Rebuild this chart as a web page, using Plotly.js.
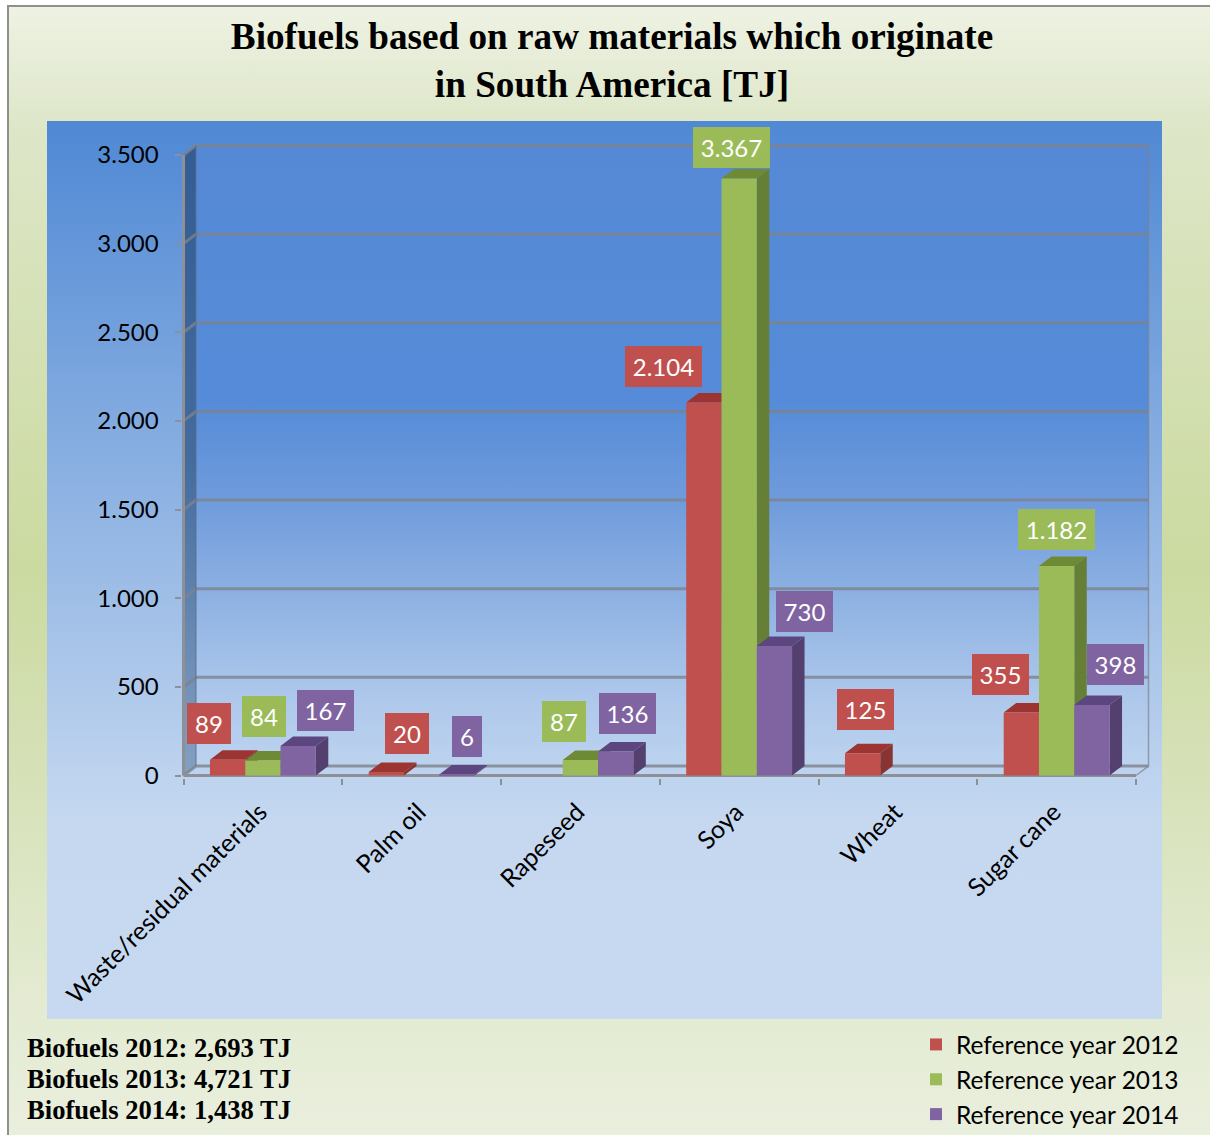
<!DOCTYPE html>
<html>
<head>
<meta charset="utf-8">
<script src="https://cdn.plot.ly/plotly-3.0.1.min.js"></script>
<style>
html,body{margin:0;padding:0;width:1210px;height:1135px;overflow:hidden;background:#fff}
#page{position:relative;width:1210px;height:1135px}
#frame{position:absolute;left:7px;top:5px;width:1300px;height:1300px;border:2px solid #8e908c;box-sizing:border-box;background:linear-gradient(180deg,#eef2e3 0px,#dde6c7 125px,#cbdaa0 560px,#d6e1b8 770px,#e4ebd2 1000px,#e9efdd 1130px,#e9efdd 1300px)}
#plate{position:absolute;left:47px;top:121px;width:1115px;height:898px;background:linear-gradient(180deg,#4f88d4 0%,#c5d8f0 78%,#c6d9f0 100%)}
#chart{position:absolute;left:0;top:0;width:1210px;height:1135px}
</style>
</head>
<body>
<div id="page"><div id="frame"></div><div id="plate"></div><div id="chart"></div></div>
<script>
const categories = ["Waste/residual materials","Palm oil","Rapeseed","Soya","Wheat","Sugar cane"];
const seriesNames = ["Reference year 2012","Reference year 2013","Reference year 2014"];
const values2012 = [89,20,null,2104,125,355];
const values2013 = [84,null,87,3367,null,1182];
const values2014 = [167,6,136,730,null,398];
const yTicks = [0,500,1000,1500,2000,2500,3000,3500];
const footerLines = ["Biofuels 2012: 2,693 TJ","Biofuels 2013: 4,721 TJ","Biofuels 2014: 1,438 TJ"];

const allValues = [values2012,values2013,values2014];
const frontColors = ["#C0504D","#9BBB59","#8064A2"];
const topColors = ["#9c3431","#6f8a35","#5c4680"];
const sideColors = ["#873432","#667f36","#54406f"];
const gridColor = "rgba(125,130,140,0.8)";
const axisColor = "#8d9096";
const PX_CAT = 158.83, PX_VAL = 621/3500;
const BARW = 2/9, DX = 12.5/PX_CAT, DY = 53.5;
const idx = categories.map((_,i)=>i);
const font = "Lato, Carlito, sans-serif";
const serif = "'Liberation Serif','Times New Roman',serif";

// label offsets (px) from the front-top centre of each bar
const labelShift = [
 [[-19,36],[21,38],null,[-40,36],[3,44],[-21,38]],
 [[1,44],null,[-16,39],[-8,31],null,[0,36]],
 [[27,35],[10,38],[12,38],[30,35],null,[24,40]]
];

const traces = [];
const line = (xs,ys,width,color,z)=>({type:"scatter",mode:"lines",x:xs,y:ys,line:{width:width,color:color},
  hoverinfo:"skip",showlegend:false,zorder:z});

// back wall
traces.push({type:"scatter",mode:"lines",x:[-0.5+DX,5.5+DX,5.5+DX,-0.5+DX,-0.5+DX],y:[DY,DY,3500+DY,3500+DY,DY],fill:"toself",
  fillgradient:{type:"vertical",colorscale:[[0,"#bcd3ef"],[0.108,"#aec8eb"],[0.268,"#8fb2e3"],[0.429,"#6f9bdc"],[0.59,"#558bd8"],[1,"#5589d5"]]},
  line:{width:0},hoverinfo:"skip",showlegend:false,zorder:0});
// left wall
traces.push({type:"scatter",mode:"lines",x:[-0.5,-0.5+DX,-0.5+DX,-0.5,-0.5],y:[0,DY,3500+DY,3500,0],fill:"toself",
  fillgradient:{type:"vertical",colorscale:[[0,"rgba(125,155,190,0.9)"],[0.5,"rgba(60,100,150,0.9)"],[1,"rgba(50,90,145,0.95)"]]},
  line:{width:0},hoverinfo:"skip",showlegend:false,zorder:0});
// back and left-wall grid lines
yTicks.forEach(v=>{
  traces.push(line([-0.5,-0.5+DX,5.5+DX],[v,v+DY,v+DY],3,gridColor,0));
});
traces.push(line([5.5,5.5+DX,5.5+DX],[0,DY,3500+DY],1.5,"rgba(125,130,140,0.7)",0));
traces.push(line([-0.5+DX,-0.5+DX],[DY,3500+DY],1.5,"rgba(90,110,140,0.6)",0));
// front axis lines
traces.push(line([-0.5,5.5],[0,0],3,axisColor,0));
traces.push(line([-0.5,-0.5],[0,3500],3,axisColor,0));

allValues.forEach((vals,s)=>{
  const off = -1/3 + s*BARW;
  const tx=[],ty=[],sx=[],sy=[];
  vals.forEach((v,i)=>{
    if(v===null) return;
    const xl=i+off, xr=xl+BARW;
    tx.push(xl,xr,xr+DX,xl+DX,xl,null); ty.push(v,v,v+DY,v+DY,v,null);
    sx.push(xr,xr+DX,xr+DX,xr,xr,null); sy.push(0,DY,v+DY,v,0,null);
  });
  const z = 1+s*2;
  traces.push({type:"scatter",mode:"lines",x:sx,y:sy,fill:"toself",fillcolor:sideColors[s],line:{width:0},
    hoverinfo:"skip",showlegend:false,zorder:z});
  traces.push({type:"scatter",mode:"lines",x:tx,y:ty,fill:"toself",fillcolor:topColors[s],line:{width:0},
    hoverinfo:"skip",showlegend:false,zorder:z});
  traces.push({type:"bar",name:seriesNames[s],x:idx,y:vals,width:BARW,offset:off,
    marker:{color:frontColors[s],line:{width:0}},zorder:z+1,
    hovertemplate:"%{y}<extra>"+seriesNames[s]+"</extra>"});
});

const fmt = v => String(v).replace(/\B(?=(\d{3})+$)/g,".");
const boxW = {1:30,2:44,3:57,5:77};
const annotations = [];
allValues.forEach((vals,s)=>{
  vals.forEach((v,i)=>{
    if(v===null) return;
    const t = fmt(v);
    annotations.push({xref:"x",yref:"y",x:i-2/9+s*BARW,y:v,text:t,showarrow:false,
      xanchor:"center",yanchor:"middle",xshift:labelShift[s][i][0],yshift:labelShift[s][i][1],
      width:boxW[t.length],height:41,bgcolor:frontColors[s],borderpad:0,borderwidth:0,align:"center",valign:"middle",
      font:{family:font,size:24,color:"#ffffff"}});
  });
});
footerLines.forEach((t,i)=>{
  annotations.push({xref:"paper",yref:"paper",x:0,xanchor:"left",yanchor:"middle",
    xshift:-157.5, y:0, yshift:778.5-1048-31*i, text:"<b>"+t+"</b>",showarrow:false,
    font:{family:serif,size:26.6,color:"#000000"}});
});

const layout = {
  width:1210,height:1135,
  margin:{l:181.5,r:60,t:144,b:356.5,pad:0,autoexpand:false},
  paper_bgcolor:"rgba(0,0,0,0)",plot_bgcolor:"rgba(0,0,0,0)",
  barmode:"overlay",separators:",.",
  title:{text:"<b>Biofuels based on raw materials which originate<br>in South America [TJ]</b>",
    x:612/1210,xanchor:"center",y:1-49/1135,yanchor:"top",font:{family:serif,size:37.2,color:"#000"}},
  showlegend:true,
  legend:{xref:"container",yref:"container",x:916/1210,xanchor:"left",y:1-1022/1135,yanchor:"top",bgcolor:"rgba(0,0,0,0)",
    traceorder:"normal",itemclick:false,itemdoubleclick:false,font:{family:font,size:24.5,color:"#000"},itemwidth:30},
  xaxis:{range:[-0.5-1.5/PX_CAT,5.5+DX+1.5/PX_CAT],tickmode:"array",tickvals:idx,ticktext:categories,tickangle:-45,
    ticks:"outside",ticklen:8.5,tickwidth:1,tickcolor:"rgba(0,0,0,0)",
    showgrid:false,zeroline:false,showline:false,
    tickfont:{family:font,size:25,color:"#000"},automargin:false,ticklabelshift:-3,
    minor:{tickmode:"array",tickvals:[-0.5,0.5,1.5,2.5,3.5,4.5,5.5],ticks:"outside",ticklen:6,tickwidth:2,tickcolor:axisColor,showgrid:false}},
  yaxis:{range:[-2.5/PX_VAL,3500+DY+1.5/PX_VAL],tickmode:"array",tickvals:yTicks,tickformat:",d",ticks:"outside",ticklen:6.5,tickwidth:2,tickcolor:axisColor,
    showgrid:false,zeroline:false,showline:false,ticklabelstandoff:11,ticklabelshift:4.4,
    tickfont:{family:font,size:24,color:"#000"},automargin:false},
  annotations:annotations
};
Plotly.newPlot("chart",traces,layout,{displayModeBar:false,responsive:false});
</script>
</body>
</html>
